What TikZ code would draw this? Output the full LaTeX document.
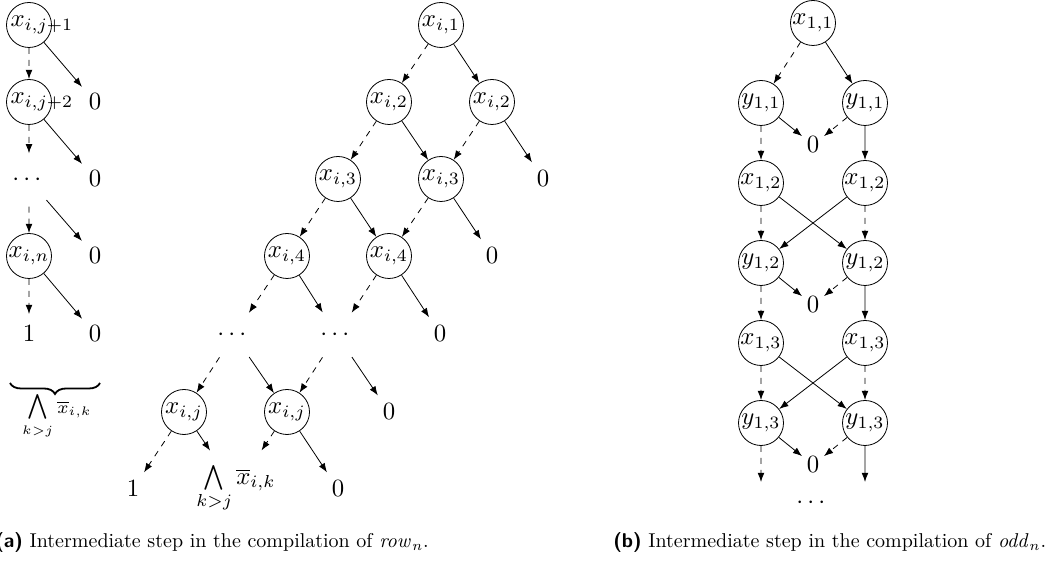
\documentclass[tikz,border=0pt]{standalone}
\usepackage{amsmath}
\usetikzlibrary{arrows.meta,decorations.pathreplacing}

\begin{document}
\begin{tikzpicture}[x=0.5pt,y=-0.5pt,
  sc/.style={scale=1.24},
  var/.style={sc,circle,draw,inner sep=0pt,minimum size=18.15pt},
  term/.style={sc,circle,inner sep=2.7pt},
  termb/.style={sc,circle,inner sep=1pt},
  hi/.style={-{Latex[length=4.6pt,width=3.4pt]}},
  lo/.style={hi,dashed},
  captext/.style={anchor=base west,inner sep=0pt}]
\useasboundingbox (0,0) rectangle (1061,565);

% ---- (a), left chain ----
\node[var] (l1) at (29,25) {\makebox[14.9pt][l]{$x_{i,j+1}$}};
\node[term] (l1z) at (95,102) {$0$};
\node[var] (l2) at (29,102) {\makebox[14.9pt][l]{$x_{i,j+2}$}};
\node[term] (l2z) at (95,179) {$0$};
\node[term] (l3) at (29,180) {$\cdots$};
\node[term] (l3z) at (95,256) {$0$};
\node[var] (l4) at (29,256) {$x_{i,n}$};
\node[term] (l4z) at (95,334) {$0$};
\node[term] (l5) at (29,334) {$1$};
\draw[lo] (l1) -- (l2);  \draw[hi] (l1) -- (l1z);
\draw[lo] (l2) -- (l3);  \draw[hi] (l2) -- (l2z);
\draw[lo] (l3) -- (l4);  \draw[hi] (l3) -- (l3z);
\draw[lo] (l4) -- (l5);  \draw[hi] (l4) -- (l4z);
\coordinate (brR) at (100,383);
\coordinate (brL) at (10,383);
\draw[decorate,decoration={brace,amplitude=5.5pt},line width=0.9pt] (brR) -- (brL);
\node[sc] (brlab) at (57,417) {$\mathop{\textstyle\bigwedge}\limits_{\scriptscriptstyle k>j}{\scriptstyle\overline{x}_{i,k}}$};

% ---- (a), tree ----
\node[var] (m1) at (441,25) {$x_{i,1}$};
\node[var] (m2a) at (389,102) {$x_{i,2}$};
\node[var] (m2b) at (492,102) {$x_{i,2}$};
\node[term] (m2z) at (543,179) {$0$};
\node[var] (m3a) at (338,179) {$x_{i,3}$};
\node[var] (m3b) at (441,179) {$x_{i,3}$};
\node[term] (m3z) at (492,256) {$0$};
\node[var] (m4a) at (287,256) {$x_{i,4}$};
\node[var] (m4b) at (389,256) {$x_{i,4}$};
\node[term] (m4z) at (440,334) {$0$};
\node[term] (m5a) at (234,335) {$\cdots$};
\node[term] (m5b) at (337,335) {$\cdots$};
\node[term] (m5z) at (389,412) {$0$};
\node[var] (m6a) at (184,412) {$x_{i,j}$};
\node[var] (m6b) at (287,412) {$x_{i,j}$};
\node[term] (m7a) at (133,489) {$1$};
\node[sc,circle,inner sep=0pt] (m7w) at (236,489) {$\bigwedge\limits_{k>j}\overline{x}_{i,k}$};
\node[term] (m7z) at (338,489) {$0$};
\draw[lo] (m1) -- (m2a);   \draw[hi] (m1) -- (m2b);
\draw[lo] (m2a) -- (m3a);  \draw[hi] (m2a) -- (m3b);
\draw[lo] (m2b) -- (m3b);  \draw[hi] (m2b) -- (m2z);
\draw[lo] (m3a) -- (m4a);  \draw[hi] (m3a) -- (m4b);
\draw[lo] (m3b) -- (m4b);  \draw[hi] (m3b) -- (m3z);
\draw[lo] (m4a) -- (m5a);  \draw[hi] (m4a) -- (m5b);
\draw[lo] (m4b) -- (m5b);  \draw[hi] (m4b) -- (m4z);
\draw[lo] (m5a) -- (m6a);  \draw[hi] (m5a) -- (m6b);
\draw[lo] (m5b) -- (m6b);  \draw[hi] (m5b) -- (m5z);
\draw[lo] (m6a) -- (m7a);  \draw[hi] (m6a) -- (m7w);
\draw[lo] (m6b) -- (m7w);  \draw[hi] (m6b) -- (m7z);

% ---- (b) ----
\node[var] (b1) at (813,23) {$x_{1,1}$};
\node[var] (b2a) at (761,103) {$y_{1,1}$};
\node[var] (b2b) at (865,103) {$y_{1,1}$};
\node[termb] (b2z) at (813,145) {$0$};
\node[var] (b3a) at (761,183) {$x_{1,2}$};
\node[var] (b3b) at (865,183) {$x_{1,2}$};
\node[var] (b4a) at (761,263) {$y_{1,2}$};
\node[var] (b4b) at (865,263) {$y_{1,2}$};
\node[termb] (b4z) at (813,305) {$0$};
\node[var] (b5a) at (761,343) {$x_{1,3}$};
\node[var] (b5b) at (865,343) {$x_{1,3}$};
\node[var] (b6a) at (761,423) {$y_{1,3}$};
\node[var] (b6b) at (865,423) {$y_{1,3}$};
\node[termb] (b6z) at (813,465) {$0$};
\coordinate (b7a) at (761,482);
\coordinate (b7b) at (865,482);
\node[sc] (b8) at (813,503) {$\cdots$};
\draw[lo] (b1) -- (b2a);   \draw[hi] (b1) -- (b2b);
\draw[lo] (b2a) -- (b3a);  \draw[hi] (b2a) -- (b2z);
\draw[lo] (b2b) -- (b2z);  \draw[hi] (b2b) -- (b3b);
\draw[lo] (b3a) -- (b4a);  \draw[hi] (b3a) -- (b4b);
\draw[lo] (b3b) -- (b4b);  \draw[hi] (b3b) -- (b4a);
\draw[lo] (b4a) -- (b5a);  \draw[hi] (b4a) -- (b4z);
\draw[lo] (b4b) -- (b4z);  \draw[hi] (b4b) -- (b5b);
\draw[lo] (b5a) -- (b6a);  \draw[hi] (b5a) -- (b6b);
\draw[lo] (b5b) -- (b6b);  \draw[hi] (b5b) -- (b6a);
\draw[lo] (b6a) -- (b7a);  \draw[hi] (b6a) -- (b6z);
\draw[lo] (b6b) -- (b6z);  \draw[hi] (b6b) -- (b7b);

% ---- captions ----
\node[captext] (capa) at (-5,548) {\textsf{\bfseries (a)} Intermediate step in the compilation of $\mathit{row}_n$.};
\node[captext] (capb) at (613,548) {\textsf{\bfseries (b)} Intermediate step in the compilation of $\mathit{odd}_n$.};
\end{tikzpicture}
\end{document}
